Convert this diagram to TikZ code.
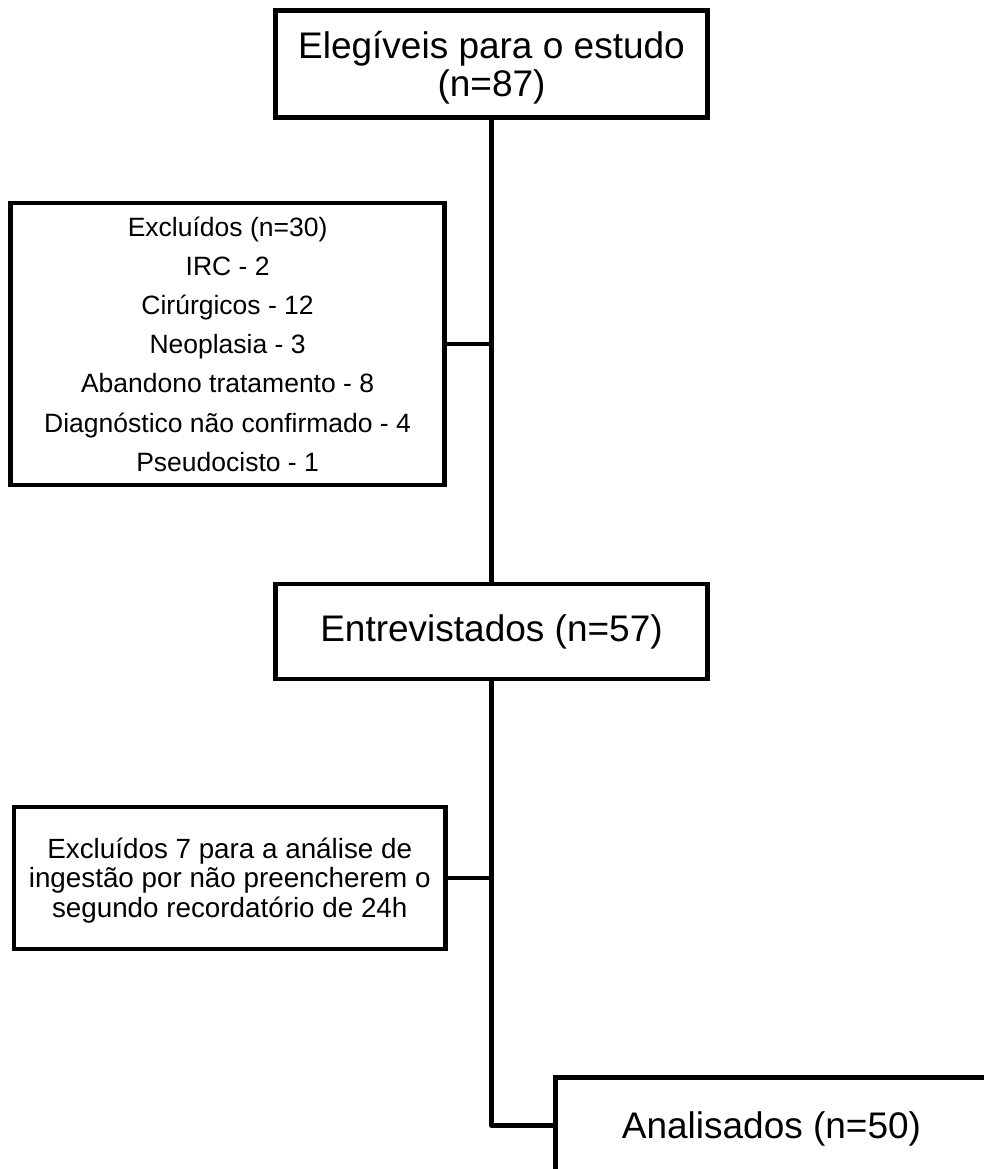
\documentclass[tikz,border=0pt]{standalone}
\usepackage{fontspec}
\setmainfont{Liberation Sans}
\usepackage{tikz}
\newcommand{\stagefont}{\fontsize{37}{38}\selectfont}
\newcommand{\exclfont}{\fontsize{26.5}{39.2}\selectfont}
\newcommand{\notefont}{\fontsize{27.8}{29.5}\selectfont}
\tikzstyle{stage} = [rectangle, draw, line width=4.8pt, minimum width=432pt, inner sep=0pt, align=center, font=\stagefont]
\tikzstyle{exclusion} = [rectangle, draw, line width=4.8pt, inner sep=0pt, align=center]
\tikzstyle{flowline} = [line width=4.8pt, line join=round]

\begin{document}
\begin{tikzpicture}[x=1pt, y=-1pt]
    \clip (0,0) rectangle (984,1169);

    % Main stages
    \node[stage, minimum height=107pt, text depth=0pt] (eleg) at (491.5,64) {Elegíveis para o estudo\\(n=87)};
    \node[stage, minimum height=95pt] (entrev) at (491.5,631.5) {Entrevistados (n=57)};
    \node[stage, minimum height=96pt, text depth=0pt] (anal) at (771.5,1125.5) {Analisados (n=50)};

    % Exclusions
    \node[exclusion, font=\exclfont, minimum width=434pt, minimum height=282pt, text depth=-4pt] (excl1) at (227.6,344) {Excluídos (n=30)\\IRC - 2\\Cirúrgicos - 12\\Neoplasia - 3\\Abandono tratamento - 8\\Diagnóstico não confirmado - 4\\Pseudocisto - 1};
    \node[exclusion, font=\notefont, minimum width=431.5pt, minimum height=142pt, text depth=1pt] (excl2) at (229.75,878) {Excluídos 7 para a análise de\\ingestão por não preencherem o\\segundo recordatório de 24h};

    % Flow lines
    \draw[flowline] (eleg.south) -- (entrev.north);
    \draw[flowline] (excl1.east) -- (excl1.east -| eleg.south);
    \draw[flowline] (entrev.south) |- (anal.west);
    \draw[flowline] (excl2.east) -- (excl2.east -| entrev.south);
\end{tikzpicture}
\end{document}
